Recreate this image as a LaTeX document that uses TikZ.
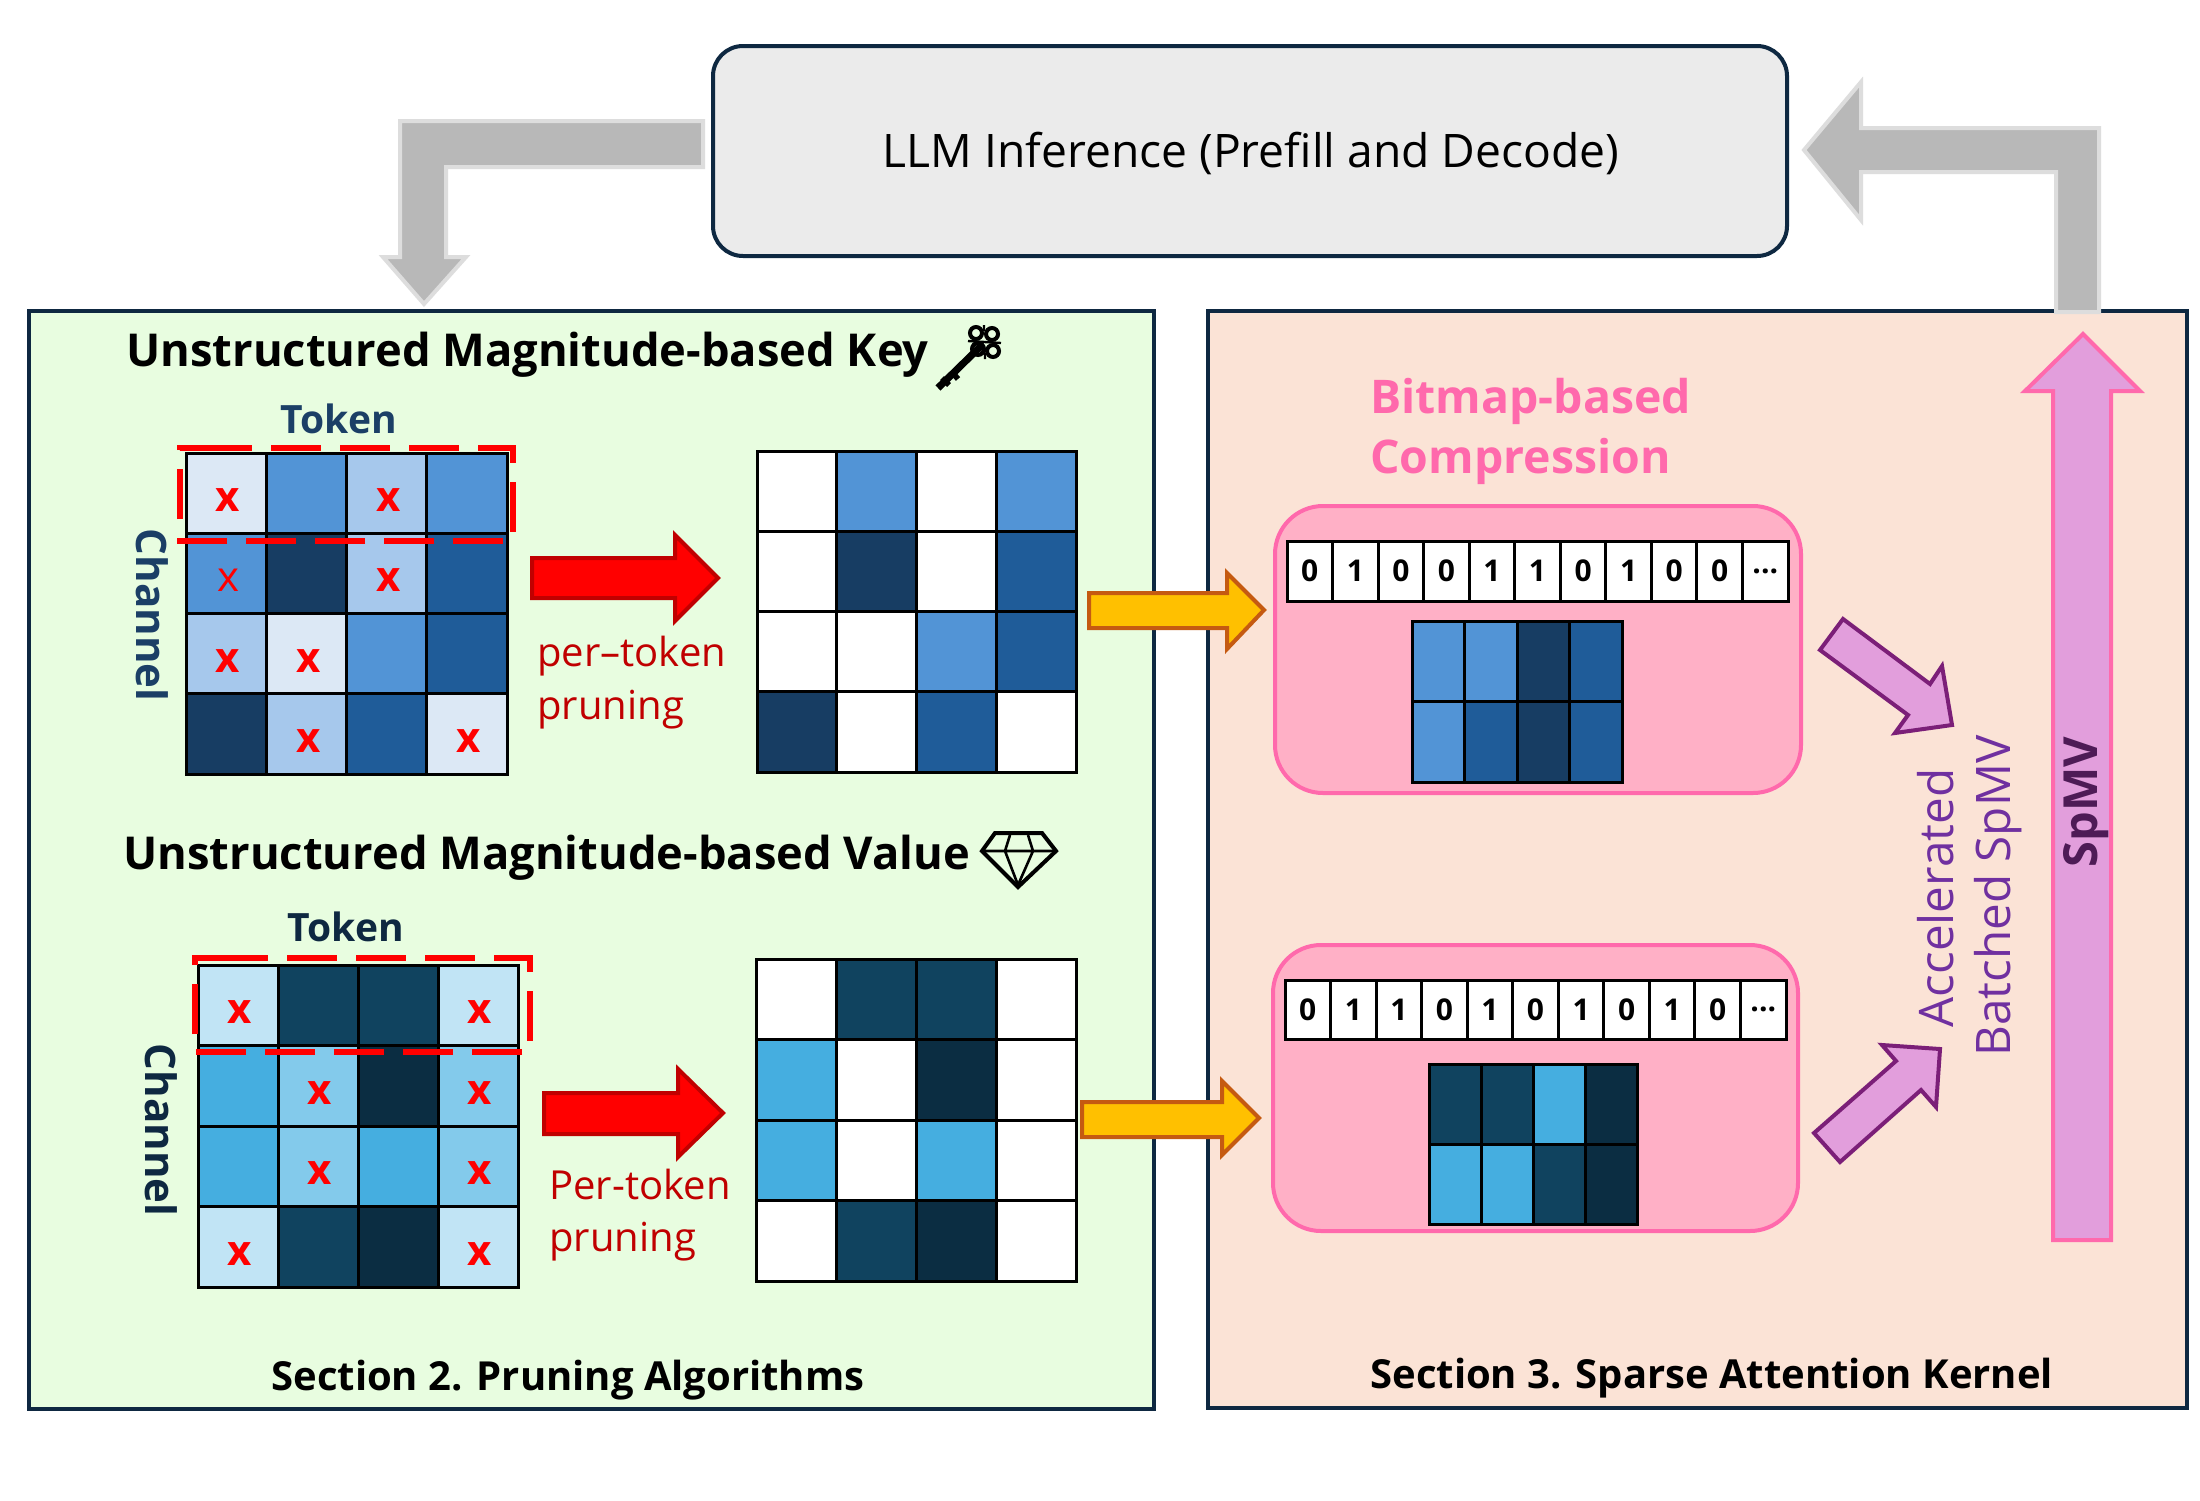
\documentclass[tikz,border=0pt]{standalone}
\usepackage{fontspec}
\setmainfont{Open Sans}
\definecolor{navy}{HTML}{0E2841}
\definecolor{panelG}{HTML}{E8FDE0}
\definecolor{panelP}{HTML}{FBE3D6}
\definecolor{boxgrey}{HTML}{EBEBEB}
\definecolor{arrowgrey}{HTML}{B8B8B8}
\definecolor{arrowedge}{HTML}{DDDDDD}
\definecolor{kL}{HTML}{DCE8F5}
\definecolor{kA}{HTML}{A6C8EC}
\definecolor{kM}{HTML}{5294D6}
\definecolor{kD}{HTML}{1F5C99}
\definecolor{kN}{HTML}{173D63}
\definecolor{vL}{HTML}{C1E4F5}
\definecolor{vA}{HTML}{83CAEB}
\definecolor{vM}{HTML}{45AEE0}
\definecolor{vD}{HTML}{10435F}
\definecolor{vN}{HTML}{0B2D42}
\definecolor{pinkfill}{HTML}{FFB0C6}
\definecolor{pinkedge}{HTML}{FF69AC}
\definecolor{violetfill}{HTML}{E29EDC}
\definecolor{violetedge}{HTML}{7B1F78}
\definecolor{orangefill}{HTML}{FFC000}
\definecolor{orangeedge}{HTML}{C55A11}
\definecolor{darkred}{HTML}{C00000}
\definecolor{tokennavy}{HTML}{1B3F66}
\definecolor{purpletext}{HTML}{7030A0}
\definecolor{spmvtext}{HTML}{4E1B56}
\tikzset{
  x=0.5pt,y=-0.5pt,
  panel/.style={draw=navy,line width=2pt},
  cellbox/.style={draw=black,line width=1.5pt,inner sep=0pt,outer sep=0pt},
  bitbox/.style={cellbox,fill=white,font=\fontsize{15}{15}\selectfont\bfseries},
  xmark/.style={text=red,font=\fontsize{21}{21}\selectfont\bfseries,inner sep=0pt},
  redbox/.style={draw=red,line width=2.8pt,dash pattern=on 25pt off 9.5pt},
  greyarrow/.style={fill=arrowgrey,draw=arrowedge,line width=2pt},
  redarrow/.style={fill=red,draw=darkred,line width=2pt},
  orangearrow/.style={fill=orangefill,draw=orangeedge,line width=2pt},
  violetarrow/.style={fill=violetfill,draw=violetedge,line width=2pt},
  spmvarrow/.style={fill=violetfill,draw=pinkedge,line width=2pt},
  pinkpanel/.style={fill=pinkfill,draw=pinkedge,line width=2pt,rounded corners=24pt},
  heading/.style={anchor=base west,inner sep=0pt,font=\fontsize{22.65}{22.65}\selectfont\bfseries},
  section/.style={anchor=base west,inner sep=0pt,font=\fontsize{20}{20}\selectfont\bfseries},
  pinktext/.style={anchor=base west,inner sep=0pt,text=pinkedge,font=\fontsize{23.2}{23.2}\selectfont\bfseries},
  prunetext/.style={anchor=base west,inner sep=0pt,text=darkred,font=\fontsize{20}{20}\selectfont},
  tokentext/.style={inner sep=0pt,text=tokennavy,font=\fontsize{19.5}{19.5}\selectfont\bfseries},
  sidetext/.style={inner sep=0pt,text=purpletext,rotate=90,font=\fontsize{23.8}{23.8}\selectfont},
}
% prefix, x0, y0, cell width, cell height, rows
\newcommand{\cellgrid}[6]{%
  \foreach \rowlist [count=\r] in {#6}{%
    \foreach \col [count=\c] in \rowlist{%
      \node[cellbox,fill=\col,minimum width=#4*0.5pt,minimum height=#5*0.5pt]
        (#1-\r-\c) at ({#2+(\c-0.5)*#4},{#3+(\r-0.5)*#5}) {};
    }%
  }%
}
% prefix, x0, y0, cell width, cell height, bits
\newcommand{\bitrow}[6]{%
  \foreach \b [count=\i] in {#6}{%
    \node[bitbox,minimum width=#4*0.5pt,minimum height=#5*0.5pt]
      (#1-\i) at ({#2+(\i-0.5)*#4},{#3+0.5*#5}) {\b};
  }%
  \node[bitbox,minimum width=#4*0.5pt,minimum height=#5*0.5pt]
    (#1-11) at ({#2+10.5*#4},{#3+0.5*#5}) {...};
}
\begin{document}
\begin{tikzpicture}
\useasboundingbox[fill=white] (0,0) rectangle (2200,1500);

% panels
\draw[panel,fill=panelG] (29,311) rectangle (1154,1409);
\draw[panel,fill=panelP] (1208,311) rectangle (2187,1408);

% top box
\node[draw=navy,fill=boxgrey,line width=2pt,rounded corners=15pt,minimum width=537pt,minimum height=105pt,inner sep=0pt,outer sep=0pt] (llm) at (1250,151) {};
\node[anchor=base,inner sep=0pt,font=\fontsize{23.1}{23.1}\selectfont] (llmtext) at (1251,167) {LLM Inference (Prefill and Decode)};

% grey loop arrows
\draw[greyarrow] (703,121) -- (400,121) -- (400,257) -- (383,257) -- (424,304) -- (466,257) -- (446,257) -- (446,167) -- (703,167) -- cycle;
\draw[greyarrow] (1804,150) -- (1861,82) -- (1861,128) -- (2099,128) -- (2099,312) -- (2056,312) -- (2056,172) -- (1861,172) -- (1861,220) -- cycle;

% headings
\node[heading] (keytitle) at (126,366) {Unstructured Magnitude-based Key};
\node[heading] (valtitle) at (123,869) {Unstructured Magnitude-based Value};

% key icon
\foreach \px/\py [count=\i] in {976/333,992/334,978/349,993/351}{
  \draw[black,line width=2pt] (\px,\py) circle[radius=6];
}
\draw[black,line width=3.6pt] (982,345) -- (938,388);
\draw[black,line width=2.8pt] (942,378) -- (949,385) (952,372) -- (958,379);
\draw[black,line width=1.2pt] (984,325) -- (984,331) (968,341) -- (1001,343) (985,353) -- (985,359);

% diamond icon
\draw[black,line width=2pt,line join=miter] (995,833) -- (1042,833) -- (1056,851) -- (1018,887) -- (982,851) -- cycle;
\draw[black,line width=1.3pt] (982,851) -- (1056,851) (1010,835) -- (1005,851) -- (1018,885) -- (1033,851) -- (1028,835);

% key matrices
\cellgrid{ka}{186}{453}{80.25}{80.25}{{kL,kM,kA,kM},{kM,kN,kA,kD},{kA,kL,kM,kD},{kN,kA,kD,kL}}
\cellgrid{kb}{757}{451}{79.75}{80.25}{{white,kM,white,kM},{white,kN,white,kD},{white,white,kM,kD},{kN,white,kD,white}}
\foreach \n in {ka-1-1,ka-1-3,ka-2-3,ka-3-1,ka-3-2,ka-4-2,ka-4-4}{
  \node[xmark] (x\n) at ([xshift=1pt,yshift=-3.5pt]\n) {x};
}
\node[xmark,font=\fontsize{21}{21}\selectfont] (xka-2-1) at ([xshift=1pt,yshift=-3.5pt]ka-2-1) {x};
\draw[redbox] (202,448) -- (513,448) -- (513,541) -- (180,541) -- (180,448) -- cycle;
\node[tokentext] (token1) at (339,419) {Token};
\node[tokentext,rotate=-90,font=\fontsize{21}{21}\selectfont\bfseries] (channel1) at (152,615) {Channel};

% value matrices
\cellgrid{va}{198}{965}{80}{80.5}{{vL,vD,vD,vL},{vM,vA,vN,vA},{vM,vA,vM,vA},{vL,vD,vN,vL}}
\cellgrid{vb}{756}{959}{80}{80.5}{{white,vD,vD,white},{vM,white,vN,white},{vM,white,vM,white},{white,vD,vN,white}}
\foreach \n in {va-1-1,va-1-4,va-2-2,va-2-4,va-3-2,va-3-4,va-4-1,va-4-4}{
  \node[xmark] (x\n) at ([xshift=1pt,yshift=-3.5pt]\n) {x};
}
\draw[redbox] (218,958) -- (530,958) -- (530,1052) -- (195,1052) -- (195,958) -- cycle;
\node[tokentext,text=navy] (token2) at (346,927) {Token};
\node[tokentext,text=navy,rotate=-90,font=\fontsize{21}{21}\selectfont\bfseries] (channel2) at (161,1130) {Channel};

% red arrows
\draw[redarrow] (532,558) -- (675,558) -- (675,535) -- (718,578) -- (675,621) -- (675,598) -- (532,598) -- cycle;
\draw[redarrow] (544,1093) -- (678,1093) -- (678,1069) -- (723,1113) -- (678,1157) -- (678,1134) -- (544,1134) -- cycle;
\node[prunetext] (prune1a) at (537,666) {per–token};
\node[prunetext] (prune1b) at (537,719) {pruning};
\node[prunetext] (prune2a) at (549,1199) {Per-token};
\node[prunetext] (prune2b) at (549,1251) {pruning};

% pink panels
\draw[pinkpanel] (1275,506) rectangle (1801,793);
\draw[pinkpanel] (1273,945) rectangle (1798,1231);
\node[pinktext] (bitmap1) at (1370,413) {Bitmap-based};
\node[pinktext] (bitmap2) at (1370,473) {Compression};
\bitrow{ba}{1287}{541}{45.55}{60}{0,1,0,0,1,1,0,1,0,0}
\bitrow{bb}{1285}{980}{45.55}{59}{0,1,1,0,1,0,1,0,1,0}
\cellgrid{sa}{1412}{621}{52.5}{80.5}{{kM,kM,kN,kD},{kM,kD,kN,kD}}
\cellgrid{sb}{1429}{1064}{52}{80}{{vD,vD,vM,vN},{vM,vM,vD,vN}}

% orange arrows
\draw[orangearrow] (1089,593) -- (1227,593) -- (1227,573) -- (1264,610) -- (1227,649) -- (1227,628) -- (1089,628) -- cycle;
\draw[orangearrow] (1082,1102) -- (1222,1102) -- (1222,1081) -- (1259,1118) -- (1222,1155) -- (1222,1137) -- (1082,1137) -- cycle;

% violet arrows
\draw[violetarrow] (1843,619) -- (1930,684) -- (1942,666) -- (1952,725) -- (1895,733) -- (1908,715) -- (1820,650) -- cycle;
\draw[violetarrow] (1814,1133) -- (1896,1061) -- (1882,1045) -- (1940,1049) -- (1936,1107) -- (1921,1090) -- (1840,1162) -- cycle;

% SpMV arrow
\draw[spmvarrow] (2083,334) -- (2140,391) -- (2111,391) -- (2111,1240) -- (2053,1240) -- (2053,391) -- (2025,391) -- cycle;
\node[inner sep=0pt,rotate=90,text=spmvtext,font=\fontsize{23.5}{23.5}\selectfont\bfseries] (spmv) at (2086,802) {SpMV};
\node[sidetext] (accel) at (1936,898) {Accelerated};
\node[sidetext] (batched) at (1998,896) {Batched SpMV};

% section captions
\node[section] (sec2) at (271,1390) {Section 2. Pruning Algorithms};
\node[section] (sec3) at (1370,1388) {Section 3. Sparse Attention Kernel};
\end{tikzpicture}
\end{document}
